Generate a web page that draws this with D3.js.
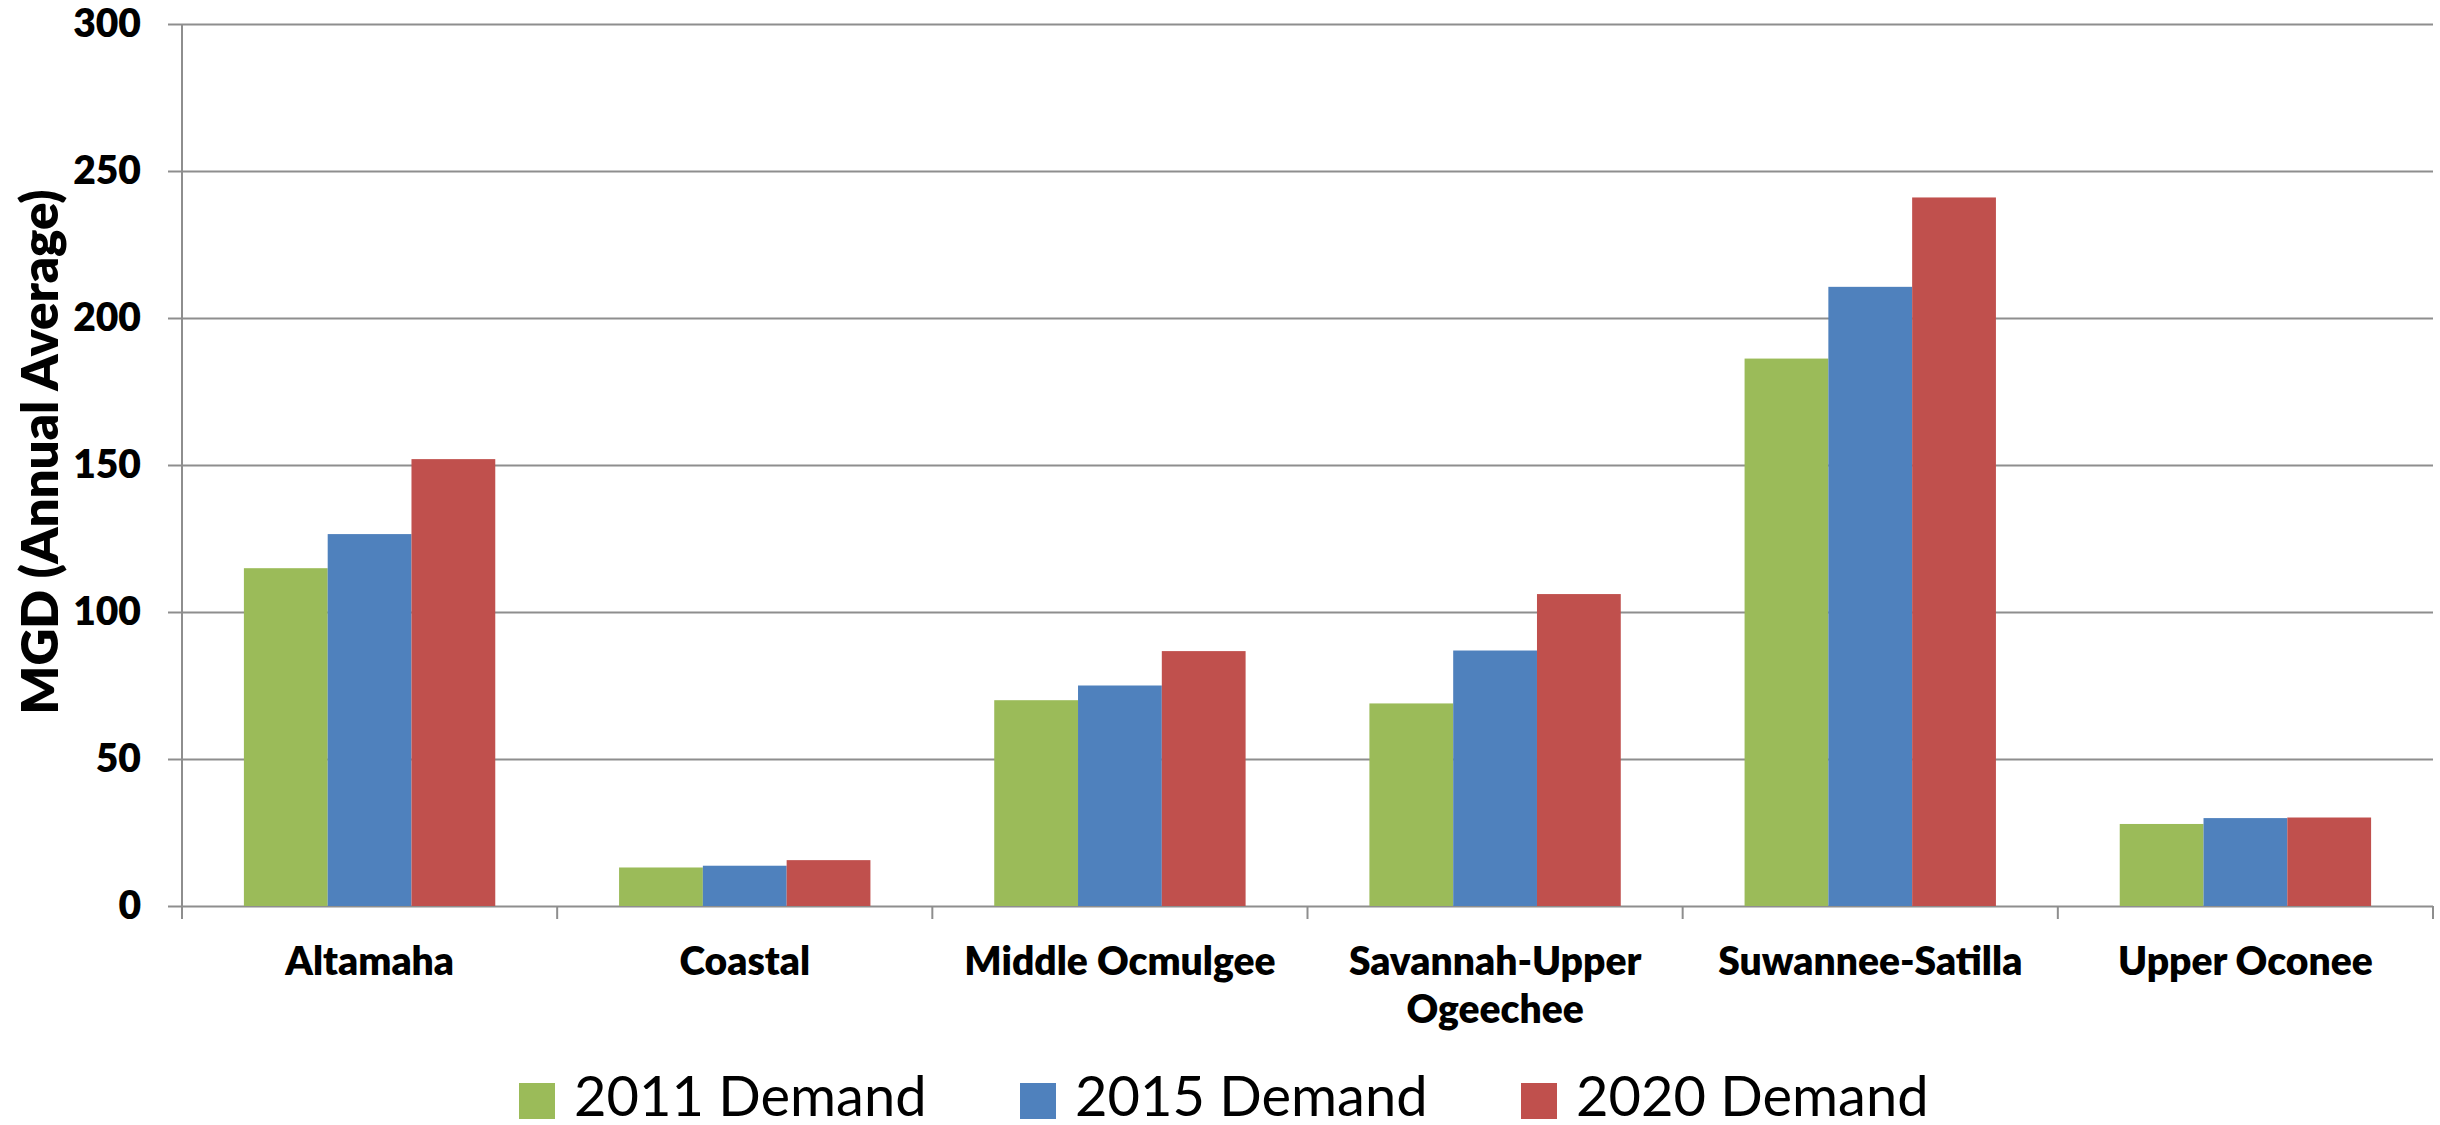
<!DOCTYPE html>
<html>
<head>
<meta charset="utf-8">
<script src="https://cdnjs.cloudflare.com/ajax/libs/d3/7.8.5/d3.min.js"></script>
<style>
  body { margin: 0; background: #fff; }
  svg { display: block; }
  .tick text { fill: #000; }
</style>
</head>
<body>
<div id="viz"></div>
<script>
// Data
const categories = ["Altamaha", "Coastal", "Middle Ocmulgee", "Savannah-Upper Ogeechee", "Suwannee-Satilla", "Upper Oconee"];
const seriesNames = ["2011 Demand", "2015 Demand", "2020 Demand"];
const demand2011 = [114.9, 13.1, 70.0, 68.9, 186.2, 27.9];
const demand2015 = [126.5, 13.7, 75.0, 86.9, 210.6, 29.9];
const demand2020 = [152.0, 15.6, 86.7, 106.1, 241.0, 30.1];
const yTicks = [0, 50, 100, 150, 200, 250, 300];
const yLabel = "MGD (Annual Average)";

// Geometry
const width = 2440;
const height = 1125;
const margin = {top: 24, right: 7, bottom: 219, left: 182};
const innerWidth = width - margin.left - margin.right;
const innerHeight = height - margin.top - margin.bottom;
const colors = ["#9BBB59", "#4F81BD", "#C0504D"];
const gridColor = "#8e8e8e";
const tickLen = 14;
const fontFamily = "Lato, 'Open Sans', sans-serif";

const series = [demand2011, demand2015, demand2020];

const svg = d3.select("#viz")
  .append("svg")
  .attr("width", width)
  .attr("height", height);

const g = svg.append("g")
  .attr("transform", "translate(" + margin.left + "," + margin.top + ")");

// Scales
const xScale = d3.scaleBand().domain(categories).range([0, innerWidth]).padding(0);
const bw = xScale.bandwidth();
const groupPad = bw * 0.165;
const xInner = d3.scaleBand().domain(seriesNames).range([groupPad, bw - groupPad]);
const yScale = d3.scaleLinear().domain([0, 300]).range([innerHeight, 0]);

// Gridlines
g.append("g")
  .attr("class", "grid")
  .call(d3.axisLeft(yScale).tickValues(yTicks).tickSize(-innerWidth).tickFormat(""))
  .call(s => s.select(".domain").remove())
  .call(s => s.selectAll("line").attr("stroke", gridColor).attr("stroke-width", 2));

// Bars
const groups = g.selectAll(".group")
  .data(categories)
  .enter().append("g")
  .attr("transform", d => "translate(" + xScale(d) + ",0)");

groups.selectAll("rect")
  .data((d, i) => seriesNames.map((s, j) => ({s: s, v: series[j][i]})))
  .enter().append("rect")
  .attr("x", d => xInner(d.s))
  .attr("width", xInner.bandwidth())
  .attr("y", d => yScale(d.v))
  .attr("height", d => innerHeight - yScale(d.v))
  .attr("fill", (d, j) => colors[j]);

// Y axis
const yAxisG = g.append("g")
  .call(d3.axisLeft(yScale).tickValues(yTicks).tickSize(tickLen).tickSizeOuter(0).tickPadding(27))
  .call(s => s.select(".domain").remove())
  .call(s => s.selectAll("line").attr("stroke", gridColor).attr("stroke-width", 2));

yAxisG.selectAll("text")
  .style("font-family", fontFamily)
  .style("font-weight", "800")
  .style("font-size", "39px");

g.append("line")
  .attr("x1", 0).attr("x2", 0)
  .attr("y1", yScale(300)).attr("y2", innerHeight + 13)
  .attr("stroke", gridColor).attr("stroke-width", 2);

// X axis: boundary ticks
const bounds = categories.map(c => xScale(c) + bw);
g.selectAll(".xtick")
  .data(bounds)
  .enter().append("line")
  .attr("x1", d => d).attr("x2", d => d)
  .attr("y1", innerHeight).attr("y2", innerHeight + 13)
  .attr("stroke", gridColor).attr("stroke-width", 2);

// X labels
const xAxisG = g.append("g")
  .attr("transform", "translate(0," + innerHeight + ")")
  .call(d3.axisBottom(xScale).tickSize(0).tickPadding(0))
  .call(s => s.select(".domain").remove());

xAxisG.selectAll("text")
  .style("font-family", fontFamily)
  .style("font-weight", "800")
  .style("font-size", "39px")
  .attr("dy", null)
  .attr("y", 69)
  .call(wrap, bw - 20);

function wrap(text, w) {
  text.each(function() {
    const t = d3.select(this);
    const words = t.text().split(/\s+/);
    const y = t.attr("y");
    t.text(null);
    let line = [];
    let tspan = t.append("tspan").attr("x", 0).attr("y", y);
    let n = 0;
    words.forEach(word => {
      line.push(word);
      tspan.text(line.join(" "));
      if (tspan.node().getComputedTextLength() > w && line.length > 1) {
        line.pop();
        tspan.text(line.join(" "));
        line = [word];
        n++;
        tspan = t.append("tspan").attr("x", 0).attr("y", +y + n * 48).text(word);
      }
    });
  });
}

// Y label
svg.append("text")
  .attr("transform", "translate(58,452) rotate(-90)")
  .attr("text-anchor", "middle")
  .style("font-family", fontFamily)
  .style("font-weight", "800")
  .style("font-size", "51px")
  .text(yLabel);

// Legend
const legendX = [519, 1020, 1521];
const legend = svg.selectAll(".legend")
  .data(seriesNames)
  .enter().append("g")
  .attr("transform", (d, i) => "translate(" + legendX[i] + ",1083)");

legend.append("rect")
  .attr("width", 36).attr("height", 36)
  .attr("fill", (d, i) => colors[i]);

legend.append("text")
  .attr("x", 55).attr("y", 33)
  .style("font-family", fontFamily)
  .style("font-size", "56px")
  .text(d => d);
</script>
</body>
</html>
